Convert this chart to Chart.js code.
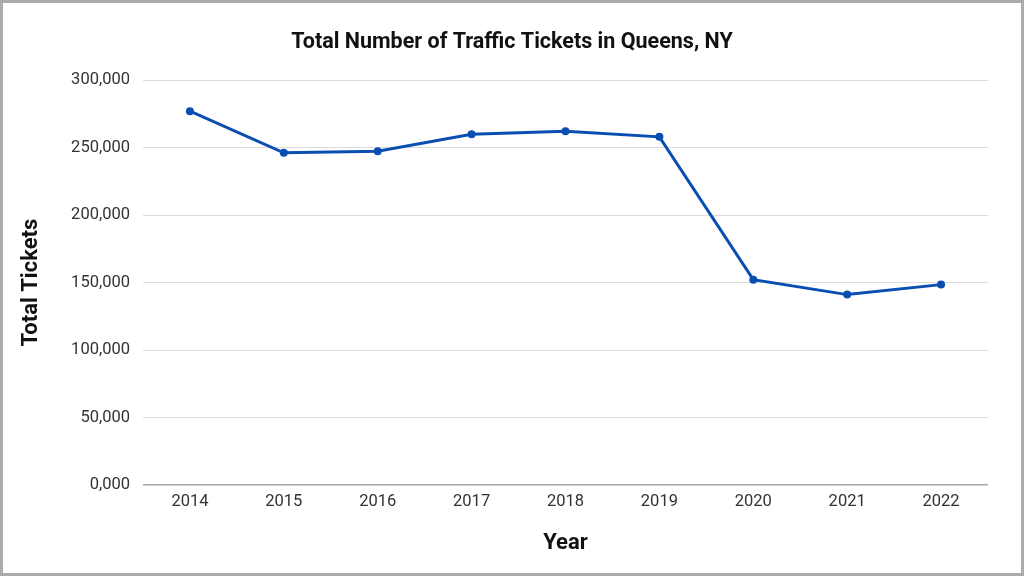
<!DOCTYPE html>
<html>
<head>
<meta charset="utf-8">
<script src="https://cdn.jsdelivr.net/npm/chart.js@4"></script>
<style>
  html, body { margin: 0; padding: 0; background: #fff; }
  #wrap {
    width: 1024px; height: 576px; box-sizing: border-box;
    border: 3px solid #ababab; background: #fff;
  }
</style>
</head>
<body>
<div id="wrap"><canvas id="myChart" width="1018" height="570"></canvas></div>
<script>
const years = ['2014', '2015', '2016', '2017', '2018', '2019', '2020', '2021', '2022'];
const tickets = [277000, 246200, 247400, 260000, 262200, 258000, 152200, 141100, 148500];
const yTicks = [0, 50000, 100000, 150000, 200000, 250000, 300000];

const formatTick = (v) => v === 0 ? '0,000' : v.toLocaleString('en-US');

const initChart = () => {
    const ctx = document.getElementById('myChart').getContext('2d');
    new Chart(ctx, {
        type: 'line',
        data: {
            labels: years,
            datasets: [{
                label: 'Total Tickets',
                data: tickets,
                borderColor: '#0a4eb2',
                backgroundColor: '#0a4eb2',
                borderWidth: 3,
                pointRadius: 4,
                pointBorderWidth: 0,
                tension: 0
            }]
        },
        options: {
            responsive: false,
            animation: false,
            // equal side padding keeps the title centred on the canvas
            layout: { padding: { left: 33, right: 33, top: 0, bottom: 0 } },
            plugins: {
                legend: { display: false },
                tooltip: { enabled: false },
                title: {
                    display: true,
                    text: 'Total Number of Traffic Tickets in Queens, NY',
                    color: '#111',
                    font: { family: 'Roboto', size: 21.5, weight: 'bold' },
                    padding: { top: 27, bottom: 24.4 }
                }
            },
            scales: {
                x: {
                    offset: true,
                    grid: { display: false, drawTicks: false },
                    border: { display: false },
                    ticks: {
                        color: '#333',
                        font: { family: 'Roboto', size: 16.5 },
                        padding: 7,
                        maxRotation: 0
                    },
                    title: {
                        display: true,
                        text: 'Year',
                        color: '#111',
                        font: { family: 'Roboto', size: 22, weight: 'bold' },
                        padding: { top: 10, bottom: 16 }
                    },
                    afterFit: (scale) => { scale.height = 88; }
                },
                y: {
                    min: 0,
                    max: 300000,
                    afterBuildTicks: (scale) => { scale.ticks = yTicks.map(v => ({ value: v })); },
                    grid: {
                        drawTicks: false,
                        color: (c) => c.tick && c.tick.value === 0 ? '#a6a6a6' : '#dcdcdc',
                        lineWidth: (c) => c.tick && c.tick.value === 0 ? 1.5 : 1
                    },
                    border: { display: false },
                    ticks: {
                        color: '#333',
                        font: { family: 'Roboto', size: 16.5 },
                        padding: 13,
                        callback: formatTick
                    },
                    title: {
                        display: true,
                        text: 'Total Tickets',
                        color: '#111',
                        font: { family: 'Roboto', size: 22, weight: 'bold' },
                        padding: { top: -17.5, bottom: 0 }
                    },
                    afterFit: (scale) => { scale.width = 107; }
                }
            }
        }
    });
};

document.addEventListener('DOMContentLoaded', initChart);
</script>
</body>
</html>
